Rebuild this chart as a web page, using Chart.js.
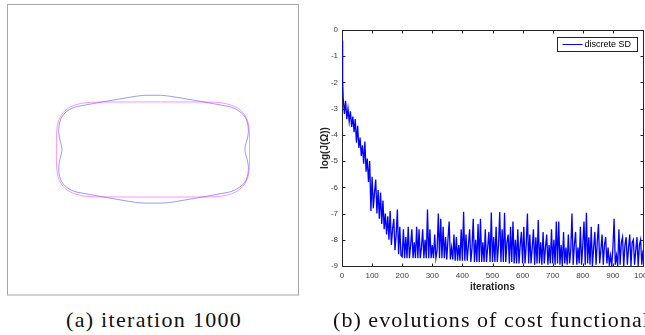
<!DOCTYPE html>
<html>
<head>
<meta charset="utf-8">
<script src="https://cdn.jsdelivr.net/npm/chart.js@4/dist/chart.umd.min.js"></script>
<style>
  html, body { margin: 0; padding: 0; background: #fff; }
  body { width: 645px; height: 335px; position: relative; overflow: hidden; }
  #boxA { position: absolute; left: 7px; top: 4px; width: 290px; height: 289px;
          border: 1px solid #a6a6a6; border-bottom: 2px solid #d2d2d2; }
  #cA { position: absolute; left: 0; top: 0; }
  #cB { position: absolute; left: 300px; top: 20px; }
  .cap { position: absolute; top: 308px; font-family: "Liberation Serif", serif; font-size: 22px;
         line-height: 24px; color: #111; white-space: nowrap; letter-spacing: 1.3px; }
</style>
</head>
<body>
<div id="boxA"><canvas id="cA" width="290" height="289"></canvas></div>
<canvas id="cB" width="345" height="290"></canvas>
<div class="cap" id="capA" style="left:66px">(a) iteration 1000</div>
<div class="cap" id="capB" style="left:333px; letter-spacing:1.05px">(b) evolutions of cost functional</div>
<script>
// ---------- panel (a): shape at iteration 1000 ----------
const blueX = [0,-0.06,-0.12,-0.2,-0.3,-0.4,-0.47,-0.52,-0.56,-0.595,-0.62,-0.638,-0.648,-0.65,-0.645,-0.632,-0.628,
  -0.632,-0.645,-0.65,-0.648,-0.638,-0.62,-0.595,-0.56,-0.52,-0.47,-0.4,-0.3,-0.2,-0.12,-0.06,0,
  0.06,0.12,0.2,0.3,0.4,0.47,0.52,0.56,0.595,0.625,0.645,0.655,0.658,0.652,0.638,0.634,
  0.638,0.652,0.658,0.655,0.645,0.625,0.595,0.56,0.52,0.47,0.4,0.3,0.2,0.12,0.06,0];
const blueY = [0.375,0.375,0.368,0.355,0.338,0.32,0.307,0.298,0.285,0.264,0.238,0.205,0.165,0.125,0.08,0.03,0,
  -0.03,-0.08,-0.125,-0.165,-0.205,-0.238,-0.262,-0.283,-0.296,-0.305,-0.318,-0.336,-0.353,-0.366,-0.371,-0.371,
  -0.371,-0.366,-0.353,-0.336,-0.318,-0.305,-0.296,-0.283,-0.262,-0.238,-0.205,-0.165,-0.125,-0.08,-0.03,0,
  0.03,0.08,0.125,0.165,0.205,0.238,0.264,0.285,0.298,0.307,0.32,0.338,0.355,0.368,0.375,0.375];
const magentaX = [0,-0.2,-0.38,-0.45,-0.5,-0.55,-0.59,-0.62,-0.642,-0.656,-0.663,-0.666,-0.666,
  -0.666,-0.663,-0.656,-0.642,-0.62,-0.59,-0.55,-0.5,-0.45,-0.38,-0.2,0,
  0.2,0.38,0.45,0.5,0.55,0.59,0.62,0.642,0.656,0.663,0.666,0.666,
  0.666,0.663,0.656,0.642,0.62,0.59,0.55,0.5,0.45,0.38,0.2,0];
const magentaY = [0.329,0.329,0.328,0.325,0.318,0.303,0.282,0.255,0.222,0.185,0.14,0.08,0,
  -0.08,-0.14,-0.185,-0.222,-0.255,-0.282,-0.303,-0.318,-0.325,-0.328,-0.329,-0.329,
  -0.329,-0.328,-0.325,-0.318,-0.303,-0.282,-0.255,-0.222,-0.185,-0.14,-0.08,0,
  0.08,0.14,0.185,0.222,0.255,0.282,0.303,0.318,0.325,0.328,0.329,0.329];

// ---------- panel (b): log(J) vs iterations ----------
const iterations = [
  0,2,4,8,12,16,20,24,28,32,36,40,44,48,52,56,60,64,68,72,76,80,84,88,92,96,
  100,104,108,112,116,120,124,128,132,136,140,144,148,152,156,160,164,168,172,176,180,184,188,192,196,
  200,204,208,212,216,220,224,228,232,236,240,244,248,252,256,260,264,268,272,276,280,284,288,292,296,
  300,304,308,312,316,320,324,328,332,336,340,344,348,352,356,360,364,368,372,376,380,384,388,392,396,
  400,404,408,412,416,420,424,428,432,436,440,444,448,452,456,460,464,468,472,476,480,484,488,492,496,
  500,504,508,512,516,520,524,528,532,536,540,544,548,552,556,560,564,568,572,576,580,584,588,592,596,
  600,604,608,612,616,620,624,628,632,636,640,644,648,652,656,660,664,668,672,676,680,684,688,692,696,
  700,704,708,712,716,720,724,728,732,736,740,744,748,752,756,760,764,768,772,776,780,784,788,792,796,
  800,804,808,812,816,820,824,828,832,836,840,844,848,852,856,860,864,868,872,876,880,884,888,892,896,
  900,904,908,912,916,920,924,928,932,936,940,944,948,952,956,960,964,968,972,976,980,984,988,992,996,
  1000];
const logJ = [
  -0.4,-1.9,-2.6,-3.2,-2.7,-3.4,-3.0,-3.5,-3.1,-3.7,-3.3,-3.9,-3.4,-4.3,-3.65,-4.5,-4.1,-4.8,-4.4,-5.1,-4.25,-5.4,-4.9,-5.8,-5.0,-6.9,
  -5.6,-6.8,-6.2,-5.7,-7.0,-6.1,-7.2,-6.2,-7.4,-6.5,-7.6,-7.0,-7.8,-7.1,-8.0,-6.9,-8.2,-7.6,-7.2,-8.4,-7.8,-6.85,-8.55,-7.5,-8.6,
  -8.65,-7.6,-8.7,-7.9,-8.7,-7.5,-8.7,-8.2,-7.6,-8.7,-8.1,-8.7,-7.5,-8.7,-7.6,-8.7,-8.3,-7.6,-8.7,-8.0,-8.7,-6.85,-8.7,-7.6,-8.7,
  -8.2,-8.7,-7.8,-8.7,-8.4,-7.0,-8.7,-7.2,-8.7,-7.5,-8.7,-7.9,-8.75,-8.0,-7.3,-8.75,-8.3,-8.75,-7.8,-8.8,-7.9,-8.8,-8.2,-8.8,-7.6,
  -8.8,-6.93,-8.8,-7.8,-8.8,-8.2,-7.6,-8.85,-8.3,-7.2,-8.85,-8.0,-8.85,-7.4,-8.85,-7.2,-8.85,-8.1,-8.85,-7.6,-8.85,-8.3,-7.7,-8.85,-6.96,
  -8.85,-7.9,-8.85,-7.5,-8.85,-8.2,-6.94,-8.85,-7.6,-8.85,-6.97,-8.85,-8.1,-7.8,-8.9,-7.5,-8.85,-7.3,-8.9,-8.0,-8.9,-7.6,-8.9,-8.2,-7.7,
  -8.9,-7.5,-8.9,-8.2,-7.0,-8.9,-7.8,-8.9,-8.3,-7.6,-8.95,-7.9,-8.9,-7.25,-8.9,-8.1,-8.95,-7.7,-8.9,-8.3,-7.8,-8.95,-8.2,-8.9,-7.6,
  -8.9,-8.0,-8.95,-7.3,-8.9,-7.3,-8.95,-8.2,-9.0,-7.7,-8.9,-8.3,-8.95,-7.8,-8.9,-8.4,-7.0,-8.95,-8.2,-7.7,-8.95,-8.3,-8.9,-7.5,-8.95,
  -8.2,-7.3,-8.95,-6.97,-8.9,-7.9,-8.95,-7.5,-9.0,-8.3,-7.7,-8.95,-8.1,-7.4,-8.9,-8.4,-7.8,-8.95,-8.2,-7.9,-8.9,-8.3,-8.95,-8.6,-9.0,
  -8.3,-7.2,-8.95,-8.6,-9.0,-7.6,-8.95,-8.1,-7.9,-9.0,-8.2,-7.9,-8.95,-8.3,-7.8,-9.0,-8.1,-8.0,-8.95,-8.4,-7.9,-9.0,-8.2,-8.0,-8.95,
  -8.4];
const xTicks = [0,100,200,300,400,500,600,700,800,900,1000];
const yTicks = [0,-1,-2,-3,-4,-5,-6,-7,-8,-9];
const seriesLabel = 'discrete SD';

// ---------- chart (a) ----------
const toPts = (xs, ys) => xs.map((x, i) => ({x, y: ys[i]}));
new Chart(document.getElementById('cA'), {
  type: 'scatter',
  data: { datasets: [
    { data: toPts(magentaX, magentaY), showLine: true, borderColor: 'rgba(255,0,255,0.42)', borderWidth: 1, pointRadius: 0, tension: 0.3 },
    { data: toPts(blueX, blueY), showLine: true, borderColor: 'rgba(0,0,255,0.4)', borderWidth: 1, pointRadius: 0, tension: 0.3 }
  ]},
  options: {
    responsive: false, animation: false,
    layout: { padding: 0, autoPadding: false },
    plugins: { legend: { display: false }, tooltip: { enabled: false } },
    scales: {
      x: { type: 'linear', min: -1, max: 1, display: false },
      y: { type: 'linear', min: -1, max: 1, display: false }
    }
  }
});

// ---------- chart (b) ----------
const matlabAxes = {
  id: 'matlabAxes',
  beforeDatasetsDraw(chart) {
    const {ctx, chartArea: a, scales: {x, y}} = chart;
    const L = Math.round(a.left) + 0.5, R = Math.round(a.right) + 0.5;
    const T = Math.round(a.top) + 0.5, B = Math.round(a.bottom) + 0.5;
    ctx.save();
    ctx.strokeStyle = '#262626';
    ctx.lineWidth = 1;
    ctx.beginPath();
    ctx.rect(L, T, R - L, B - T);
    xTicks.forEach(v => {
      const px = Math.round(x.getPixelForValue(v)) + 0.5;
      ctx.moveTo(px, B); ctx.lineTo(px, B - 3);
      ctx.moveTo(px, T); ctx.lineTo(px, T + 3);
    });
    yTicks.forEach(v => {
      const py = Math.round(y.getPixelForValue(v)) + 0.5;
      ctx.moveTo(L, py); ctx.lineTo(L + 3, py);
      ctx.moveTo(R, py); ctx.lineTo(R - 3, py);
    });
    ctx.stroke();
    ctx.restore();
  },
  afterDatasetsDraw(chart) {
    const {ctx, chartArea: a} = chart;
    ctx.save();
    ctx.strokeStyle = '#262626';
    ctx.lineWidth = 1;
    const bw = 80, bh = 14;
    const bx = Math.round(a.right) - 6 - bw + 0.5, by = Math.round(a.top) + 7 + 0.5;
    ctx.fillStyle = '#fff';
    ctx.fillRect(bx, by, bw, bh);
    ctx.strokeRect(bx, by, bw, bh);
    const ds = chart.data.datasets[0];
    ctx.strokeStyle = ds.borderColor;
    ctx.beginPath();
    ctx.moveTo(bx + 5, by + bh / 2); ctx.lineTo(bx + 25, by + bh / 2);
    ctx.stroke();
    ctx.fillStyle = '#000';
    ctx.font = '9px "Liberation Sans", Arial, sans-serif';
    ctx.textBaseline = 'middle';
    ctx.textAlign = 'left';
    ctx.fillText(ds.label, bx + 27, by + bh / 2 + 0.5);
    ctx.restore();
  }
};

const tickFont = { family: '"Liberation Sans", Arial, sans-serif', size: 8 };
const titleFont = { family: '"Liberation Sans", Arial, sans-serif', size: 10, weight: 'bold' };

new Chart(document.getElementById('cB'), {
  type: 'line',
  data: { datasets: [{
    label: seriesLabel,
    data: toPts(iterations, logJ),
    borderColor: '#0000ff', borderWidth: 1.3, pointRadius: 0, tension: 0, fill: false
  }]},
  options: {
    responsive: false, animation: false,
    layout: { padding: { top: 10, right: 2, left: 0, bottom: 0 }, autoPadding: false },
    plugins: { legend: { display: false }, tooltip: { enabled: false } },
    scales: {
      x: {
        type: 'linear', min: 0, max: 1000,
        afterFit(s) { s.height = 44; s.paddingLeft = 0; s.paddingRight = 0; },
        afterBuildTicks(s) { s.ticks = xTicks.map(v => ({value: v})); },
        grid: { display: false, drawTicks: false },
        border: { display: false },
        ticks: { padding: 5, maxRotation: 0, minRotation: 0, autoSkip: false, color: '#404040',
                 callback: v => String(v), font: tickFont },
        title: { display: true, text: 'iterations', color: '#262626', padding: { top: 0, bottom: 17 }, font: titleFont }
      },
      y: {
        type: 'linear', min: -9, max: 0,
        afterFit(s) { s.width = 42; s.paddingTop = 0; s.paddingBottom = 0; },
        afterBuildTicks(s) { s.ticks = yTicks.map(v => ({value: v})); },
        grid: { display: false, drawTicks: false },
        border: { display: false },
        ticks: { padding: 4, autoSkip: false, color: '#404040', callback: v => String(v), font: tickFont },
        title: { display: true, text: 'log(J(Ω))', color: '#262626', padding: { top: 19, bottom: 0 }, font: titleFont }
      }
    }
  },
  plugins: [matlabAxes]
});
</script>
</body>
</html>
